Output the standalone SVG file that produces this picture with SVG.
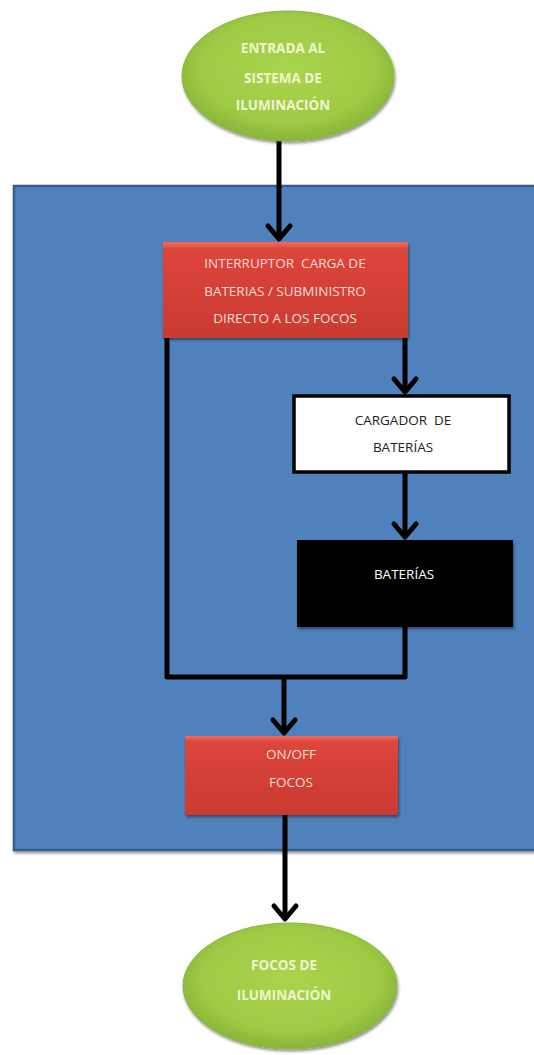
<svg xmlns="http://www.w3.org/2000/svg" width="534" height="1055" viewBox="0 0 534 1055">
<defs>
<radialGradient id="gGreen" cx="50%" cy="45%" r="55%">
<stop offset="0%" stop-color="#ABD44E"/>
<stop offset="75%" stop-color="#9ECA44"/>
<stop offset="100%" stop-color="#88B43A"/>
</radialGradient>
<linearGradient id="gRed" x1="0" y1="0" x2="0" y2="1">
<stop offset="0%" stop-color="#F06A5E"/>
<stop offset="8%" stop-color="#DD453B"/>
<stop offset="100%" stop-color="#C93A31"/>
</linearGradient>
<filter id="shadow" x="-10%" y="-10%" width="125%" height="130%">
<feDropShadow dx="1" dy="2" stdDeviation="1.5" flood-color="#000" flood-opacity="0.45"/>
</filter>
<marker id="arrow" markerUnits="userSpaceOnUse" viewBox="-20 -16 24 32" markerWidth="24" markerHeight="32" refX="0" refY="0" orient="auto">
<path d="M-13,-11 L0,0 L-13,11" fill="none" stroke="#000" stroke-width="5" stroke-linecap="round" stroke-linejoin="round"/>
</marker>
<style>
.conn{fill:none;stroke:#000;stroke-width:5;stroke-linejoin:round}
.t{font-family:"Open Sans","Liberation Sans",sans-serif;font-size:13.5px;text-anchor:middle;white-space:pre}
.tg{fill:#EEF6D0;font-weight:bold}
.tr{fill:#F8DCD6}
.tw{fill:#222}
.tb{fill:#fff}
</style>
</defs>
<rect width="534" height="1055" fill="#fff"/>
<g id="panel">
<rect x="14" y="186" width="530" height="664" fill="#4F81BD" stroke="#385D8A" stroke-width="2.5" filter="url(#shadow)"/>
</g>
<g id="connectors">
<line class="conn" x1="279" y1="140" x2="279" y2="239" marker-end="url(#arrow)"/>
<polyline class="conn" points="167,338 167,677 405,677 405,627"/>
<line class="conn" x1="405" y1="338" x2="405" y2="392" marker-end="url(#arrow)"/>
<line class="conn" x1="405" y1="473" x2="405" y2="537" marker-end="url(#arrow)"/>
<line class="conn" x1="284" y1="677" x2="284" y2="733" marker-end="url(#arrow)"/>
<line class="conn" x1="285" y1="815" x2="285" y2="919" marker-end="url(#arrow)"/>
</g>
<g id="entrada">
<ellipse cx="288" cy="76" rx="106" ry="65" fill="url(#gGreen)" stroke="#8DB83C" stroke-width="1" filter="url(#shadow)"/>
<text class="t tg" x="283" y="53">ENTRADA AL</text>
<text class="t tg" x="283" y="83">SISTEMA DE</text>
<text class="t tg" x="283" y="110">ILUMINACIÓN</text>
</g>
<g id="interruptor">
<rect x="163" y="242" width="245" height="96" fill="url(#gRed)" filter="url(#shadow)"/>
<text class="t tr" x="285" y="268" xml:space="preserve">INTERRUPTOR  CARGA DE</text>
<text class="t tr" x="285" y="296">BATERIAS / SUBMINISTRO</text>
<text class="t tr" x="285" y="323">DIRECTO A LOS FOCOS</text>
</g>
<g id="cargador">
<rect x="294" y="396" width="215" height="76" fill="#fff" stroke="#000" stroke-width="3.5"/>
<text class="t tw" x="403" y="425" xml:space="preserve">CARGADOR  DE</text>
<text class="t tw" x="403" y="452">BATERÍAS</text>
</g>
<g id="baterias">
<rect x="297" y="540" width="216" height="87" fill="#000" filter="url(#shadow)"/>
<text class="t tb" x="404" y="579">BATERÍAS</text>
</g>
<g id="onoff">
<rect x="185" y="736" width="213" height="79" fill="url(#gRed)" filter="url(#shadow)"/>
<text class="t tr" x="291" y="759">ON/OFF</text>
<text class="t tr" x="291" y="787">FOCOS</text>
</g>
<g id="focos">
<ellipse cx="290" cy="986" rx="107" ry="63" fill="url(#gGreen)" stroke="#8DB83C" stroke-width="1" filter="url(#shadow)"/>
<text class="t tg" x="284" y="970">FOCOS DE</text>
<text class="t tg" x="284" y="1000">ILUMINACIÓN</text>
</g>
</svg>
